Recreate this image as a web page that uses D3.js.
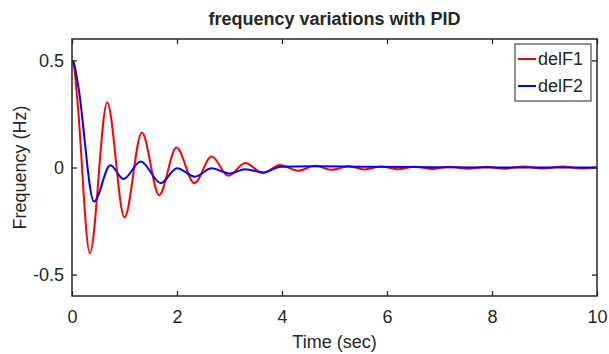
<!DOCTYPE html>
<html>
<head>
<meta charset="utf-8">
<script src="https://cdn.jsdelivr.net/npm/d3@7"></script>
<style>
  body { margin: 0; background: #fff; }
  text { font-family: "Liberation Sans", Arial, sans-serif; fill: #262626; }
</style>
</head>
<body>
<svg id="chart" width="609" height="354"></svg>
<script>
// values (start, then extremes of each oscillation)
var t1 = [0, 0.03, 0.1, 0.34, 0.67, 1.0, 1.33, 1.66, 1.99, 2.33, 2.66, 2.98, 3.3, 3.64, 3.96, 4.31, 4.63, 4.95,
          5.27, 5.57, 5.88, 6.2, 6.53, 6.86, 7.2, 7.55, 7.9, 8.23, 8.6, 8.96, 9.35, 9.7, 10];
var delF1 = [0.5, 0.485, 0.32, -0.40, 0.304, -0.234, 0.164, -0.129, 0.093, -0.073, 0.051, -0.039, 0.021, -0.026, 0.012, -0.015, 0.008, -0.011,
             0.006, -0.009, 0.005, -0.008, 0.004, -0.007, 0.004, -0.006, 0.004, -0.006, 0.005, -0.005, 0.005, -0.005, 0.001];
var t2 = [0, 0.03, 0.12, 0.42, 0.73, 0.98, 1.31, 1.69, 2.0, 2.34, 2.66, 3.0, 3.3, 3.64, 3.98, 4.6, 5.5, 6.5, 8, 10];
var delF2 = [0.5, 0.492, 0.378, -0.159, 0.011, -0.054, 0.028, -0.073, -0.003, -0.043, -0.004, -0.028, -0.008, -0.023, 0.003, 0.006, 0.004, 0.002, 0.0, 0.0];

var xTicks = [0, 2, 4, 6, 8, 10];
var yTicks = [-0.5, 0, 0.5];
var yTickLabels = ["-0.5", "0", "0.5"];
var seriesNames = ["delF1", "delF2"];
var seriesColors = ["#ff0000", "#0000ff"];

var svg = d3.select("#chart"),
    margin = {top: 39, right: 12, bottom: 58, left: 72},
    width = +svg.attr("width") - margin.left - margin.right,
    height = +svg.attr("height") - margin.top - margin.bottom,
    g = svg.append("g").attr("transform", "translate(" + margin.left + "," + margin.top + ")");

var x = d3.scaleLinear().domain([0, 10]).range([0, width]);
var y = d3.scaleLinear().domain([-0.6, 0.6]).range([height, 0]);

var series = [
  {name: seriesNames[0], color: seriesColors[0], values: t1.map(function(t, i) { return {t: t, v: delF1[i]}; })},
  {name: seriesNames[1], color: seriesColors[1], values: t2.map(function(t, i) { return {t: t, v: delF2[i]}; })}
];

var line = d3.line()
    .x(function(d) { return x(d.t); })
    .y(function(d) { return y(d.v); })
    .curve(d3.curveMonotoneX);

g.append("clipPath").attr("id", "clip")
  .append("rect").attr("width", width).attr("height", height);

g.selectAll(".series")
  .data(series)
  .enter().append("path")
    .attr("class", "series")
    .attr("clip-path", "url(#clip)")
    .attr("fill", "none")
    .attr("stroke", function(d) { return d.color; })
    .attr("stroke-width", 2)
    .attr("d", function(d) { return line(d.values); });

// axes, MATLAB style: ticks inside, box with ticks on all four sides
function styleAxis(sel) {
  sel.select(".domain").remove();
  sel.selectAll(".tick line").attr("stroke", "#262626").attr("stroke-width", 1.3);
  sel.selectAll(".tick text").style("font-size", "18px").attr("fill", "#262626")
     .style("font-family", "'Liberation Sans', Arial, sans-serif");
}

g.append("g")
    .attr("transform", "translate(0," + height + ")")
    .call(d3.axisBottom(x).tickValues(xTicks).tickSizeInner(-5).tickSizeOuter(0).tickPadding(14).tickFormat(d3.format("d")))
    .call(styleAxis);

g.append("g")
    .call(d3.axisTop(x).tickValues(xTicks).tickSizeInner(-5).tickSizeOuter(0).tickFormat(""))
    .call(styleAxis);

g.append("g")
    .call(d3.axisLeft(y).tickValues(yTicks).tickSizeInner(-5).tickSizeOuter(0).tickPadding(8)
      .tickFormat(function(d, i) { return yTickLabels[i]; }))
    .call(styleAxis);

g.append("g")
    .attr("transform", "translate(" + width + ",0)")
    .call(d3.axisRight(y).tickValues(yTicks).tickSizeInner(-5).tickSizeOuter(0).tickFormat(""))
    .call(styleAxis);

g.append("rect")
    .attr("width", width)
    .attr("height", height)
    .attr("fill", "none")
    .attr("stroke", "#262626")
    .attr("stroke-width", 1.5);

// labels
svg.append("text")
    .attr("x", margin.left + width / 2)
    .attr("y", 25)
    .attr("text-anchor", "middle")
    .style("font-size", "18px")
    .style("font-weight", "bold")
    .attr("fill", "#000")
    .text("frequency variations with PID");

svg.append("text")
    .attr("x", margin.left + width / 2)
    .attr("y", 348)
    .attr("text-anchor", "middle")
    .style("font-size", "18px")
    .text("Time (sec)");

svg.append("text")
    .attr("transform", "translate(26," + (margin.top + height / 2) + ") rotate(-90)")
    .attr("text-anchor", "middle")
    .style("font-size", "18px")
    .text("Frequency (Hz)");

// legend
var lg = g.append("g").attr("transform", "translate(" + (width - 82) + ",5)");
lg.append("rect")
    .attr("width", 76)
    .attr("height", 57)
    .attr("fill", "#fff")
    .attr("stroke", "#262626")
    .attr("stroke-width", 1);

var item = lg.selectAll(".legend")
  .data(series)
  .enter().append("g")
    .attr("class", "legend")
    .attr("transform", function(d, i) { return "translate(0," + (15 + i * 27) + ")"; });

item.append("line")
    .attr("x1", 3).attr("x2", 21)
    .attr("stroke", function(d) { return d.color; })
    .attr("stroke-width", 2);

item.append("text")
    .attr("x", 23)
    .attr("dy", "0.35em")
    .style("font-size", "18px")
    .attr("fill", "#000")
    .text(function(d) { return d.name; });
</script>
</body>
</html>
